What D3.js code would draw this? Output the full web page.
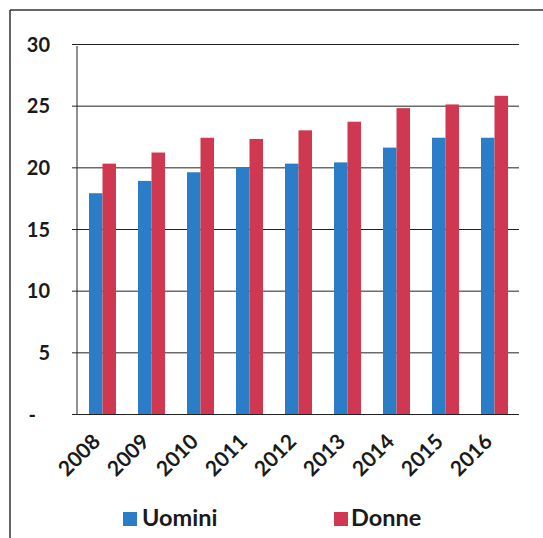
<!DOCTYPE html>
<html>
<head>
<meta charset="utf-8">
<script src="https://cdn.jsdelivr.net/npm/d3@7"></script>
<style>
  html, body { margin: 0; padding: 0; background: #fff; }
  svg { display: block; }
  text { font-family: Lato, "Open Sans", sans-serif; fill: #1a1a1a; font-weight: bold; }
</style>
</head>
<body>
<script>
const years = ["2008","2009","2010","2011","2012","2013","2014","2015","2016"];
const uomini = [17.9, 18.9, 19.6, 20.0, 20.3, 20.4, 21.6, 22.4, 22.4];
const donne  = [20.3, 21.2, 22.4, 22.3, 23.0, 23.7, 24.8, 25.1, 25.8];
const yTicks = [0, 5, 10, 15, 20, 25, 30];
const seriesNames = ["Uomini", "Donne"];
const seriesColors = ["#2c7dc7", "#cf3850"];

const W = 543, H = 538;
const svg = d3.select("body").append("svg").attr("width", W).attr("height", H);

// outer frame (top and left edges visible)
svg.append("line").attr("x1", 10).attr("y1", 10).attr("x2", W).attr("y2", 10)
  .attr("stroke", "#333").attr("stroke-width", 1.5);
svg.append("line").attr("x1", 10).attr("y1", 10).attr("x2", 10).attr("y2", H)
  .attr("stroke", "#333").attr("stroke-width", 1.5);

const x = d3.scaleBand().domain(years).range([78, 519]).paddingInner(0).paddingOuter(0);
const y = d3.scaleLinear().domain([0, 30]).range([414, 44]);

// gridlines + y labels
const yAxis = d3.axisLeft(y).tickValues(yTicks).tickSize(-(519 - 72)).tickFormat(d => d === 0 ? "-" : d);
const gy = svg.append("g").attr("transform", "translate(72,0)").call(yAxis);
gy.select(".domain").remove();
gy.selectAll(".tick line").attr("stroke", "#222").attr("stroke-width", 1);
gy.selectAll(".tick text")
  .attr("x", -22)
  .attr("dy", "0.35em")
  .style("font-size", "20px")
  .attr("fill", "#1a1a1a")
  .attr("dx", d => d === 0 ? -14 : 0);

// vertical axis line
svg.append("line").attr("x1", 77).attr("x2", 77).attr("y1", y(30) + 2).attr("y2", y(0))
  .attr("stroke", "#222").attr("stroke-width", 1);

// bars
const sub = d3.scaleBand().domain(seriesNames).range([0, 27]);
const data = [uomini, donne];
const groups = svg.append("g");
years.forEach((yr, i) => {
  seriesNames.forEach((s, j) => {
    const v = data[j][i];
    groups.append("rect")
      .attr("x", x(yr) + 11 + sub(s))
      .attr("y", y(v))
      .attr("width", sub.bandwidth())
      .attr("height", y(0) - y(v))
      .attr("fill", seriesColors[j]);
  });
});

// x labels
const xl = svg.append("g");
years.forEach(yr => {
  const cx = x(yr) + x.bandwidth() / 2 - 1;
  xl.append("text")
    .attr("transform", `translate(${cx},443) rotate(-45)`)
    .attr("text-anchor", "end")
    .style("font-size", "21px")
    .text(yr);
});

// legend
const legendPos = [{sx: 123, tx: 142}, {sx: 334, tx: 351}];
seriesNames.forEach((s, j) => {
  svg.append("rect").attr("x", legendPos[j].sx).attr("y", 512).attr("width", 14).attr("height", 14)
    .attr("fill", seriesColors[j]);
  svg.append("text").attr("x", legendPos[j].tx).attr("y", 526)
    .style("font-size", "23.5px").text(s);
});
</script>
</body>
</html>
